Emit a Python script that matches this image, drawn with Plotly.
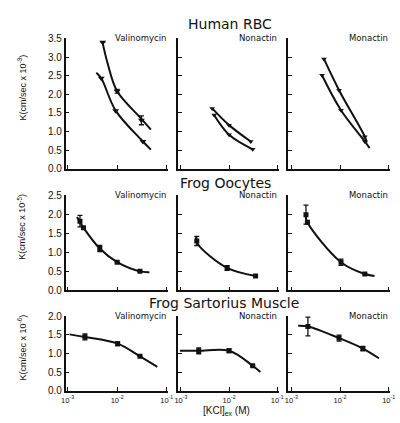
import plotly.graph_objects as go
from plotly.subplots import make_subplots

# ---------------- data (log10 [KCl] and K values) ----------------
drugs = ["Valinomycin", "Nonactin", "Monactin"]
rows_titles = ["Human RBC", "Frog Oocytes", "Frog Sartorius Muscle"]
y_titles = ["K(cm/sec x 10<sup>-9</sup>)", "K(cm/sec x 10<sup>-5</sup>)", "K(cm/sec x 10<sup>-6</sup>)"]
y_ranges = [3.5, 2.5, 2.0]
x_tick_vals = [0.001, 0.01, 0.1]
x_tick_text = ["10<sup>-3</sup>", "10<sup>-2</sup>", "10<sup>-1</sup>"]

# Human RBC (two curves per panel)
rbc_val_up_curve_lx = [-2.30, -2.19, -2.00, -1.51, -1.32]
rbc_val_up_curve_y = [3.43, 2.82, 2.08, 1.34, 1.05]
rbc_val_up_pts_lx = [-2.29, -2.00, -1.51]
rbc_val_up_pts_y = [3.40, 2.08, 1.30]
rbc_val_lo_curve_lx = [-2.42, -2.32, -2.03, -1.48, -1.32]
rbc_val_lo_curve_y = [2.58, 2.43, 1.56, 0.73, 0.51]
rbc_val_lo_pts_lx = [-2.32, -2.03, -1.48]
rbc_val_lo_pts_y = [2.43, 1.56, 0.73]

rbc_non_up_curve_lx = [-2.35, -2.00, -1.55]
rbc_non_up_curve_y = [1.62, 1.17, 0.73]
rbc_non_lo_curve_lx = [-2.31, -2.00, -1.51]
rbc_non_lo_curve_y = [1.44, 0.91, 0.52]

rbc_mon_up_curve_lx = [-2.33, -2.02, -1.49, -1.45]
rbc_mon_up_curve_y = [2.95, 2.11, 0.86, 0.70]
rbc_mon_up_pts_lx = [-2.33, -2.02, -1.49]
rbc_mon_up_pts_y = [2.95, 2.11, 0.86]
rbc_mon_lo_curve_lx = [-2.37, -1.98, -1.49, -1.39]
rbc_mon_lo_curve_y = [2.51, 1.57, 0.73, 0.55]
rbc_mon_lo_pts_lx = [-2.37, -1.98, -1.49]
rbc_mon_lo_pts_y = [2.51, 1.57, 0.73]

# Frog oocytes
ooc_val_curve_lx = [-2.81, -2.68, -2.35, -2.00, -1.54, -1.35]
ooc_val_curve_y = [1.93, 1.65, 1.10, 0.74, 0.50, 0.48]
ooc_val_pts_lx = [-2.75, -2.68, -2.35, -2.00, -1.54]
ooc_val_pts_y = [1.82, 1.65, 1.10, 0.74, 0.50]
ooc_val_pts_err = [0.15, 0.0, 0.08, 0.0, 0.0]

ooc_non_curve_lx = [-2.69, -2.65, -2.04, -1.45]
ooc_non_curve_y = [1.40, 1.22, 0.59, 0.38]
ooc_non_pts_lx = [-2.67, -2.04, -1.45]
ooc_non_pts_y = [1.30, 0.59, 0.38]
ooc_non_pts_err = [0.12, 0.06, 0.0]

ooc_mon_curve_lx = [-2.71, -2.67, -1.98, -1.49, -1.29]
ooc_mon_curve_y = [1.99, 1.79, 0.74, 0.43, 0.38]
ooc_mon_pts_lx = [-2.70, -2.67, -1.98, -1.49]
ooc_mon_pts_y = [1.99, 1.79, 0.74, 0.43]
ooc_mon_pts_err = [0.25, 0.0, 0.08, 0.0]

# Frog sartorius muscle
mus_val_curve_lx = [-2.96, -2.65, -1.99, -1.54, -1.19]
mus_val_curve_y = [1.51, 1.44, 1.26, 0.92, 0.64]
mus_val_pts_lx = [-2.65, -1.99, -1.54]
mus_val_pts_y = [1.44, 1.26, 0.92]
mus_val_pts_err = [0.08, 0.05, 0.0]

mus_non_curve_lx = [-3.02, -2.63, -2.00, -1.51, -1.35]
mus_non_curve_y = [1.07, 1.07, 1.07, 0.67, 0.50]
mus_non_pts_lx = [-2.63, -2.00, -1.51]
mus_non_pts_y = [1.07, 1.07, 0.67]
mus_non_pts_err = [0.08, 0.05, 0.0]

mus_mon_curve_lx = [-2.86, -2.66, -2.02, -1.53, -1.20]
mus_mon_curve_y = [1.74, 1.72, 1.41, 1.13, 0.87]
mus_mon_pts_lx = [-2.66, -2.02, -1.53]
mus_mon_pts_y = [1.72, 1.41, 1.13]
mus_mon_pts_err = [0.25, 0.08, 0.06]

# ---------------- figure ----------------
W, H = 400, 423
fig = make_subplots(rows=3, cols=3)

col_px = [(63, 168), (178, 281), (291, 395)]
row_px = [(34, 168), (195, 293), (319, 396)]
col_range = [[-3.04, -0.97], [-3.06, -0.97], [-3.06, -0.97]]


def px_x(a):
    return a / W


def px_y(a):
    return 1 - a / H


def X(lx):
    return [10 ** v for v in lx]


BLACK = "#111111"


def curve(r, c, lx, y):
    fig.add_trace(go.Scatter(x=X(lx), y=y, mode="lines", line=dict(color=BLACK, width=2, shape="spline"),
                             showlegend=False, hoverinfo="skip"), row=r, col=c)


def pts(r, c, lx, y, sym="triangle-down", err=None, size=6):
    kw = {}
    if err is not None:
        kw["error_y"] = dict(type="data", array=err, color=BLACK, thickness=1.3, width=2.5)
    fig.add_trace(go.Scatter(x=X(lx), y=y, mode="markers",
                             marker=dict(color=BLACK, size=size, symbol=sym),
                             showlegend=False, hoverinfo="skip", **kw), row=r, col=c)


# row 1
curve(1, 1, rbc_val_up_curve_lx, rbc_val_up_curve_y)
pts(1, 1, rbc_val_up_pts_lx, rbc_val_up_pts_y, "triangle-down", [0.0, 0.05, 0.12])
curve(1, 1, rbc_val_lo_curve_lx, rbc_val_lo_curve_y)
pts(1, 1, rbc_val_lo_pts_lx, rbc_val_lo_pts_y, "triangle-down")
curve(1, 2, rbc_non_up_curve_lx, rbc_non_up_curve_y)
pts(1, 2, rbc_non_up_curve_lx, rbc_non_up_curve_y, "triangle-down", size=5)
curve(1, 2, rbc_non_lo_curve_lx, rbc_non_lo_curve_y)
pts(1, 2, rbc_non_lo_curve_lx, rbc_non_lo_curve_y, "triangle-down", size=5)
curve(1, 3, rbc_mon_up_curve_lx, rbc_mon_up_curve_y)
pts(1, 3, rbc_mon_up_pts_lx, rbc_mon_up_pts_y, "triangle-down", size=5)
curve(1, 3, rbc_mon_lo_curve_lx, rbc_mon_lo_curve_y)
pts(1, 3, rbc_mon_lo_pts_lx, rbc_mon_lo_pts_y, "triangle-down", size=5)

# row 2
curve(2, 1, ooc_val_curve_lx, ooc_val_curve_y)
pts(2, 1, ooc_val_pts_lx, ooc_val_pts_y, "square", ooc_val_pts_err, 5)
curve(2, 2, ooc_non_curve_lx, ooc_non_curve_y)
pts(2, 2, ooc_non_pts_lx, ooc_non_pts_y, "square", ooc_non_pts_err, 5)
curve(2, 3, ooc_mon_curve_lx, ooc_mon_curve_y)
pts(2, 3, ooc_mon_pts_lx, ooc_mon_pts_y, "square", ooc_mon_pts_err, 5)

# row 3
curve(3, 1, mus_val_curve_lx, mus_val_curve_y)
pts(3, 1, mus_val_pts_lx, mus_val_pts_y, "square", mus_val_pts_err, 5)
curve(3, 2, mus_non_curve_lx, mus_non_curve_y)
pts(3, 2, mus_non_pts_lx, mus_non_pts_y, "square", mus_non_pts_err, 5)
curve(3, 3, mus_mon_curve_lx, mus_mon_curve_y)
pts(3, 3, mus_mon_pts_lx, mus_mon_pts_y, "square", mus_mon_pts_err, 5)

FONT = "Liberation Sans"
annotations = []
for r in range(3):
    top, bot = row_px[r]
    for c in range(3):
        l, rt = col_px[c]
        idx = r * 3 + c + 1
        xa = "xaxis" if idx == 1 else f"xaxis{idx}"
        ya = "yaxis" if idx == 1 else f"yaxis{idx}"
        fig.layout[xa].update(
            type="log", range=col_range[c], domain=[px_x(l), px_x(rt)],
            showline=True, linecolor=BLACK, linewidth=1.6, mirror=False,
            showgrid=False, zeroline=False, ticks="inside", ticklen=4, tickcolor=BLACK, tickwidth=1.3,
            tickvals=x_tick_vals, ticktext=x_tick_text if r == 2 else ["", "", ""],
            showticklabels=(r == 2), tickfont=dict(family=FONT, size=7.5, color=BLACK),
            ticklabelstandoff=1,
        )
        fig.layout[ya].update(
            range=[0, y_ranges[r] + 0.01], domain=[px_y(bot), px_y(top)],
            showline=True, linecolor=BLACK, linewidth=1.6,
            showgrid=False, zeroline=False, ticks="inside", ticklen=4, tickcolor=BLACK, tickwidth=1.3,
            dtick=0.5, tick0=0, tickformat=".1f",
            showticklabels=(c == 0), tickfont=dict(family=FONT, size=10, color=BLACK),
        )
        annotations.append(dict(
            x=px_x(rt), y=px_y(top), xref="paper", yref="paper", xanchor="right", yanchor="middle",
            text=drugs[c], showarrow=False, font=dict(family="DejaVu Sans", size=8.5, color=BLACK)))

# row titles
title_pos = [(231, 19), (227, 183), (225, 306)]
for t, (tx, ty) in zip(rows_titles, title_pos):
    annotations.append(dict(x=px_x(tx), y=px_y(ty), xref="paper", yref="paper", xanchor="center",
                            yanchor="middle", text=t, showarrow=False,
                            font=dict(family="DejaVu Sans", size=14, color=BLACK)))

# y titles
ytitle_pos = [85, 228, 352]
for t, ty in zip(y_titles, ytitle_pos):
    annotations.append(dict(x=px_x(18), y=px_y(ty), xref="paper", yref="paper", xanchor="center",
                            yanchor="middle", text=t, textangle=-90, showarrow=False,
                            font=dict(family=FONT, size=9, color=BLACK)))

# x title
annotations.append(dict(x=px_x(228), y=px_y(417), xref="paper", yref="paper", xanchor="center",
                        yanchor="middle", text="[KCl]<sub>ex</sub> (M)", showarrow=False,
                        font=dict(family=FONT, size=10, color=BLACK)))

fig.update_layout(
    width=W, height=H, margin=dict(l=0, r=0, t=0, b=0),
    paper_bgcolor="white", plot_bgcolor="white",
    annotations=annotations, showlegend=False,
)

fig.write_html("out.html")
